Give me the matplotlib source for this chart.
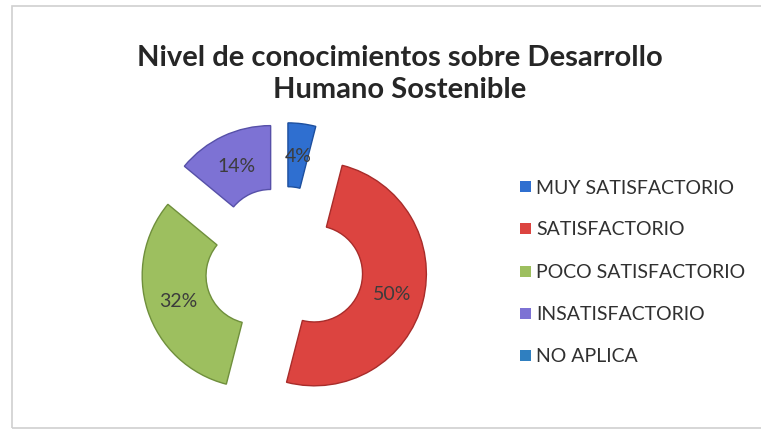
import matplotlib
matplotlib.use("Agg")
import matplotlib.pyplot as plt
from matplotlib.patches import Rectangle

title_lines = ["Nivel de conocimientos sobre Desarrollo", "Humano Sostenible"]
categories = ["MUY SATISFACTORIO", "SATISFACTORIO", "POCO SATISFACTORIO",
              "INSATISFACTORIO", "NO APLICA"]
values = [4, 50, 32, 14, 0]
colors = ["#2f6fd0", "#dc4440", "#9dbf5f", "#7d72d4", "#2f7fc0"]
edge_colors = ["#1d4f9e", "#a82c2a", "#6f8f3c", "#5650a8", "#1d5f98"]

plt.rcParams['font.family'] = ['Lato', 'DejaVu Sans']

fig = plt.figure(figsize=(7.61, 4.35), dpi=100)
fig.patch.set_facecolor("white")

W, H = 761, 435

# outer frame
fig.add_artist(Rectangle((12 / W, 6 / H), 760 / W, 422 / H,
                         transform=fig.transFigure, fill=False,
                         edgecolor="#d0d0d0", linewidth=1.2))

cx, cy, R = 284, 267, 112
half = 1.45
size = 2 * half * R
ax = fig.add_axes([(cx - size / 2) / W, (H - cy - size / 2) / H, size / W, size / H])

ring = 0.57
explode = [0.28] * len(values)
wedges, texts, autotexts = ax.pie(
    values, colors=colors, startangle=90, counterclock=False,
    explode=explode, radius=1.0,
    wedgeprops=dict(width=ring, linewidth=1.0),
    autopct=lambda p: f"{p:.0f}%" if p > 0 else "",
    pctdistance=1 - ring / 2,
    textprops=dict(color="#3c3c3c", fontsize=14))
for w, ec, v in zip(wedges, edge_colors, values):
    w.set_edgecolor(ec)
    if v == 0:
        w.set_visible(False)
ax.set_xlim(-half, half)
ax.set_ylim(-half, half)
ax.set_aspect("equal")
ax.axis("off")

for line, y in zip(title_lines, [58, 90]):
    fig.text(400 / W, 1 - y / H, line, ha="center", va="center",
             fontsize=21, fontweight="bold", color="#262626")

# legend
leg_y = [188, 230, 273, 315, 357]
for cat, col, y in zip(categories, colors, leg_y):
    fig.add_artist(Rectangle((520 / W, 1 - (y + 5) / H), 11 / W, 11 / H,
                             transform=fig.transFigure, facecolor=col,
                             edgecolor="none"))
    fig.text(536 / W, 1 - y / H, cat, ha="left", va="center",
             fontsize=14, color="#303030")

fig.savefig("out.png", dpi=100, facecolor="white")
